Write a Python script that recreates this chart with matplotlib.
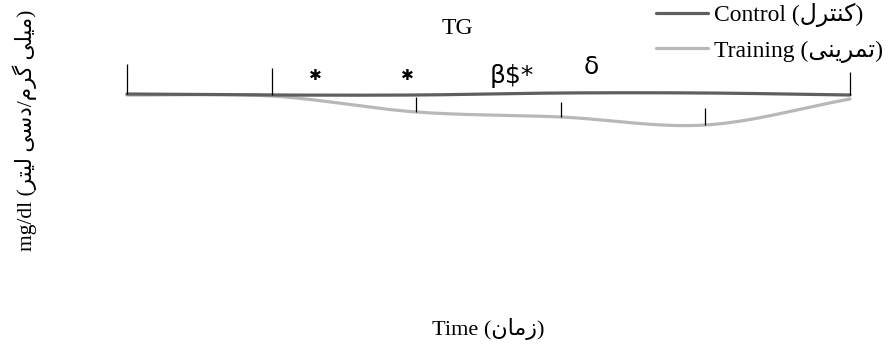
import matplotlib
matplotlib.use("Agg")
import matplotlib.pyplot as plt
import numpy as np

# ---- data ----
time_points = [0, 1, 2, 3, 4, 5]
control = [206, 205, 205, 207, 207, 205]
training = [205, 204, 188, 183, 175, 201]
control_err = [30, 27, 0, 0, 0, 23]
training_err = [0, 0, 15, 15, 17, 0]
annotations = ["\u2731", "\u2731", "β$*", "δ"]
annot_x = [1.30, 1.94, 2.66, 3.21]
annot_y = [224, 225, 224, 233]
annot_size = [11, 11, 18, 18]

# Persian strings (presentation forms, visual order)
fa_control = "(\uFEDD\uFEAE\uFE98\uFEE8\uFB90)"
fa_training = "(\uFBFD\uFEE8\uFBFE\uFEAE\uFEE4\uFE97)"
fa_time = "(\uFEE5\uFE8E\uFEE3\uFEAF)"
fa_unit = ("(\uFEAE\uFE98\uFBFF\uFEDF \uFBFD\uFEB3\uFEA9/\uFEE1\uFEAE\uFB94 "
           "\uFBFD\uFEE0\uFBFF\uFEE3)")

label_control = "Control " + fa_control
label_training = "Training " + fa_training
xlabel = "Time " + fa_time
ylabel = "mg/dl " + fa_unit
title = "TG"


def catmull_rom(x, y, n=40):
    x = np.asarray(x, float)
    y = np.asarray(y, float)
    px = np.concatenate([[2 * x[0] - x[1]], x, [2 * x[-1] - x[-2]]])
    py = np.concatenate([[2 * y[0] - y[1]], y, [2 * y[-1] - y[-2]]])
    xs, ys = [], []
    t = np.linspace(0, 1, n)
    for i in range(1, len(px) - 2):
        for p, out in ((px, xs), (py, ys)):
            p0, p1, p2, p3 = p[i - 1], p[i], p[i + 1], p[i + 2]
            out.append(0.5 * ((2 * p1) + (-p0 + p2) * t
                              + (2 * p0 - 5 * p1 + 4 * p2 - p3) * t ** 2
                              + (-p0 + 3 * p1 - 3 * p2 + p3) * t ** 3))
    return np.concatenate(xs), np.concatenate(ys)


fams = ["Liberation Serif", "DejaVu Sans"]

fig = plt.figure(figsize=(8.89, 3.49), dpi=100)
ax = fig.add_axes([127 / 889, 49 / 349, (850 - 127) / 889, 260 / 349])
ax.set_xlim(0, 5)
ax.set_ylim(0, 260)
ax.axis("off")

c_col = "#5f5f5f"
t_col = "#b8b8b8"

sx, sy = catmull_rom(time_points, training)
ax.plot(sx, sy, color=t_col, lw=2.3, clip_on=False, solid_capstyle="round",
        label=label_training, zorder=2)
sx, sy = catmull_rom(time_points, control)
ax.plot(sx, sy, color=c_col, lw=2.3, clip_on=False, solid_capstyle="round",
        label=label_control, zorder=3)

ax.errorbar(time_points, control, yerr=[np.zeros(6), control_err], fmt="none",
            ecolor="black", elinewidth=0.9, capsize=0, clip_on=False, zorder=4)
ax.errorbar(time_points, training, yerr=[np.zeros(6), training_err], fmt="none",
            ecolor="black", elinewidth=0.9, capsize=0, clip_on=False, zorder=4)

for s, xx, yy, fs in zip(annotations, annot_x, annot_y, annot_size):
    ax.text(xx, yy, s, ha="center", va="center", fontsize=fs,
            family="DejaVu Sans", clip_on=False)

h, l = ax.get_legend_handles_labels()
fig.legend(h[::-1], l[::-1], loc="upper left",
           bbox_to_anchor=(656 / 889, 1 - 3 / 349), frameon=False,
           borderpad=0, borderaxespad=0, handlelength=2.2, handletextpad=0.25,
           labelspacing=0.55, prop={"family": fams, "size": 17})

fig.text(457 / 889, 1 - 28 / 349, title, ha="center", va="center",
         family=fams, fontsize=17)
fig.text(488 / 889, 1 - 329 / 349, xlabel, ha="center", va="center",
         family=fams, fontsize=16)
fig.text(25 / 889, 1 - 130 / 349, ylabel, ha="center", va="center",
         rotation=90, family=fams, fontsize=15.5)

fig.savefig("out.png", dpi=100)
